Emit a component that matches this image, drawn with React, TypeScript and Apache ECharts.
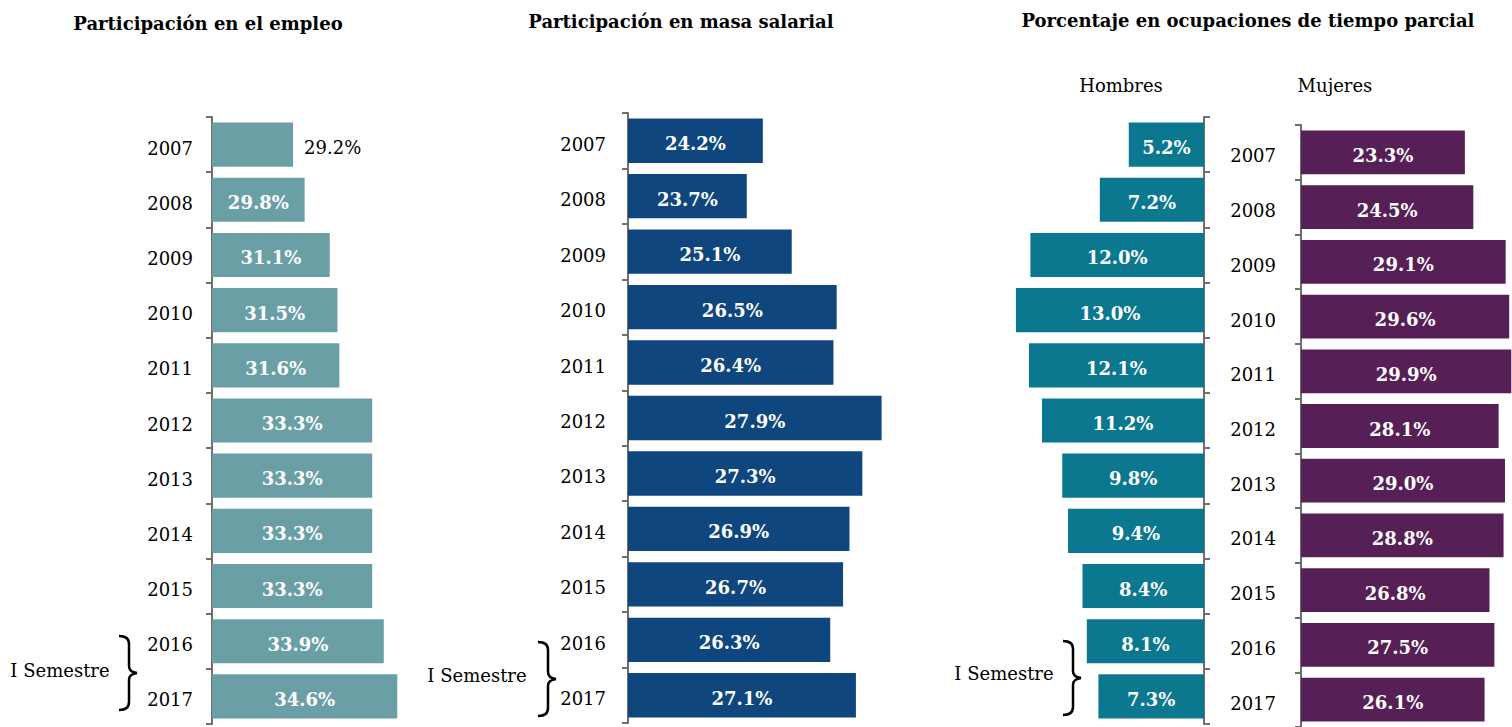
import React, { useEffect, useRef } from "react";
import * as echarts from "echarts";

const categories = ["2007", "2008", "2009", "2010", "2011", "2012", "2013", "2014", "2015", "2016", "2017"];
const empleo = [29.2, 29.8, 31.1, 31.5, 31.6, 33.3, 33.3, 33.3, 33.3, 33.9, 34.6];
const masaSalarial = [24.2, 23.7, 25.1, 26.5, 26.4, 27.9, 27.3, 26.9, 26.7, 26.3, 27.1];
const hombres = [5.2, 7.2, 12.0, 13.0, 12.1, 11.2, 9.8, 9.4, 8.4, 8.1, 7.3];
const mujeres = [23.3, 24.5, 29.1, 29.6, 29.9, 28.1, 29.0, 28.8, 26.8, 27.5, 26.1];

const titles = ["Participación en el empleo", "Participación en masa salarial", "Porcentaje en ocupaciones de tiempo parcial"];
const subTitles = ["Hombres", "Mujeres"];
const semestreLabel = "I Semestre";

const FONT = '"DejaVu Serif", "Liberation Serif", serif';

echarts.graphic.registerShape(
  "brace",
  echarts.graphic.extendPath("M0,0 Q10,0 10,8 L10,30 Q10,36 18,37 Q10,38 10,44 L10,66 Q10,74 0,74", {})
);

export default function App() {
  const ref = useRef<HTMLDivElement>(null);
  useEffect(() => {
    document.body.style.margin = "0";
    const chart = echarts.init(ref.current!, null, { renderer: "svg" });
    const axisLine = { show: true, lineStyle: { color: "#6e6e6e", width: 2 } };
    const axisTick = { show: true, length: 6, lineStyle: { color: "#6e6e6e", width: 2 } };
    const catLabel = (margin: number) => ({
      show: true,
      margin,
      formatter: "{a|{value}}",
      rich: { a: { fontFamily: FONT, fontSize: 18, color: "#000", padding: [7, 0, 0, 0] } },
    });
    const valueLabel = {
      show: true,
      position: "inside",
      offset: [0, 3],
      color: "#fff",
      fontFamily: FONT,
      fontWeight: "bold",
      fontSize: 18,
      formatter: (p: any) => Number(p.value).toFixed(1) + "%",
    };
    const grids = [
      { left: 212, top: 117, width: 193, height: 607 },
      { left: 628, top: 113, width: 321, height: 610 },
      { left: 987, top: 117, width: 217, height: 607 },
      { left: 1301, top: 125, width: 220, height: 603 },
    ];
    const braces = [
      { tx: 60, ty: 670, bx: 119, by: 636 },
      { tx: 477, ty: 675, bx: 538, by: 642 },
      { tx: 1004, ty: 673, bx: 1063, by: 641 },
    ];
    const graphic: any[] = [
      { type: "text", style: { text: titles[0], x: 208, y: 23, textAlign: "center", textVerticalAlign: "middle", font: `bold 18px ${FONT}`, fill: "#000" } },
      { type: "text", style: { text: titles[1], x: 681, y: 21, textAlign: "center", textVerticalAlign: "middle", font: `bold 18px ${FONT}`, fill: "#000" } },
      { type: "text", style: { text: titles[2], x: 1248, y: 20, textAlign: "center", textVerticalAlign: "middle", font: `bold 18px ${FONT}`, fill: "#000" } },
      { type: "text", style: { text: subTitles[0], x: 1121, y: 85, textAlign: "center", textVerticalAlign: "middle", font: `18px ${FONT}`, fill: "#000" } },
      { type: "text", style: { text: subTitles[1], x: 1335, y: 85, textAlign: "center", textVerticalAlign: "middle", font: `18px ${FONT}`, fill: "#000" } },
    ];
    braces.forEach((b) => {
      graphic.push({ type: "text", style: { text: semestreLabel, x: b.tx, y: b.ty, textAlign: "center", textVerticalAlign: "middle", font: `18px ${FONT}`, fill: "#000" } });
      graphic.push({ type: "brace", x: b.bx, y: b.by, style: { stroke: "#000", fill: "none", lineWidth: 2.5 } });
    });

    chart.setOption({
      animation: false,
      backgroundColor: "#fff",
      grid: grids,
      xAxis: [
        { type: "value", gridIndex: 0, min: 25, max: 35, show: false },
        { type: "value", gridIndex: 1, min: 20, max: 30, show: false },
        { type: "value", gridIndex: 2, min: 0, max: 15, inverse: true, show: false },
        { type: "value", gridIndex: 3, min: 0, max: 30, show: false },
      ],
      yAxis: [
        { type: "category", gridIndex: 0, data: categories, inverse: true, axisLine, axisTick, axisLabel: catLabel(19) },
        { type: "category", gridIndex: 1, data: categories, inverse: true, axisLine, axisTick, axisLabel: catLabel(22) },
        { type: "category", gridIndex: 2, data: categories, inverse: true, position: "right", axisLine, axisTick, axisLabel: { show: false } },
        { type: "category", gridIndex: 3, data: categories, inverse: true, axisLine, axisTick, axisLabel: catLabel(25) },
      ],
      series: [
        {
          type: "bar",
          xAxisIndex: 0,
          yAxisIndex: 0,
          barCategoryGap: "20%",
          itemStyle: { color: "#6a9fa6" },
          label: valueLabel,
          data: empleo.map((v, i) =>
            i === 0 ? { value: v, label: { position: "right", distance: 11, color: "#000", fontWeight: "normal" } } : v
          ),
        },
        { type: "bar", xAxisIndex: 1, yAxisIndex: 1, barCategoryGap: "20%", itemStyle: { color: "#0e467d" }, label: valueLabel, data: masaSalarial },
        { type: "bar", xAxisIndex: 2, yAxisIndex: 2, barCategoryGap: "20%", itemStyle: { color: "#0b7890" }, label: valueLabel, data: hombres },
        { type: "bar", xAxisIndex: 3, yAxisIndex: 3, barCategoryGap: "20%", itemStyle: { color: "#561f55" }, label: valueLabel, data: mujeres },
      ],
      graphic,
    });
    return () => chart.dispose();
  }, []);
  return <div ref={ref} style={{ width: 1512, height: 727 }} />;
}
